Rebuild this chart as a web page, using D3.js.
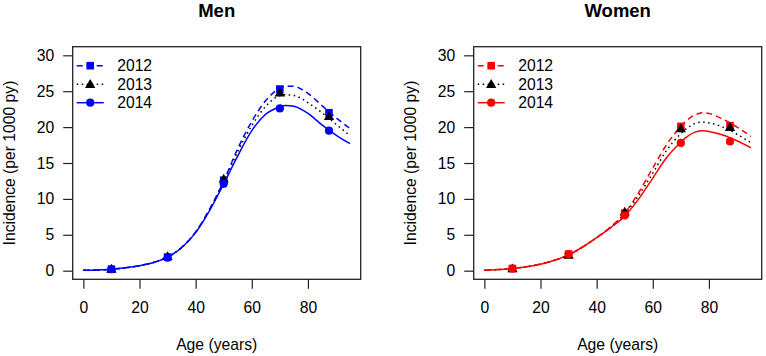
<!DOCTYPE html>
<html>
<head>
<meta charset="utf-8">
<script src="https://cdn.jsdelivr.net/npm/d3@7"></script>
<style>
  body { margin: 0; background: #fff; }
  text { font-family: "Liberation Sans", Arial, sans-serif; fill: #000; }
</style>
</head>
<body>
<div id="chart"></div>
<script>
var width = 766, height = 356;
var fontSize = 15.7;

var curveAges = [0, 5, 10, 15, 20, 25, 30, 35, 40, 45, 50, 55, 60, 65, 70, 72, 75, 78, 80, 85, 90, 95];

var men2012 = [0.05, 0.1, 0.2, 0.4, 0.7, 1.15, 1.9, 3.25, 5.4, 8.6, 12.5, 17.0, 20.8, 23.7, 25.4, 25.7, 25.7, 25.2, 24.7, 23.0, 21.3, 19.8];
var men2013 = [0.05, 0.1, 0.2, 0.4, 0.7, 1.15, 1.9, 3.2, 5.35, 8.5, 12.3, 16.6, 20.2, 22.9, 24.4, 24.5, 24.4, 23.9, 23.4, 22.0, 20.4, 18.8];
var men2014 = [0.05, 0.1, 0.2, 0.4, 0.7, 1.15, 1.9, 3.2, 5.3, 8.4, 12.1, 16.0, 19.5, 21.8, 22.8, 23.0, 22.9, 22.4, 21.9, 20.3, 18.9, 17.7];

var women2012 = [0.05, 0.15, 0.3, 0.55, 0.9, 1.45, 2.2, 3.3, 4.6, 6.1, 8.0, 10.9, 14.3, 17.6, 20.1, 20.9, 21.7, 22.0, 21.9, 21.1, 20.0, 18.7];
var women2013 = [0.05, 0.15, 0.3, 0.55, 0.9, 1.45, 2.2, 3.3, 4.6, 6.05, 7.9, 10.5, 13.6, 16.8, 19.1, 19.8, 20.5, 20.7, 20.6, 20.0, 19.0, 17.8];
var women2014 = [0.05, 0.15, 0.3, 0.55, 0.9, 1.45, 2.2, 3.3, 4.6, 6.0, 7.6, 10.0, 12.9, 15.8, 17.9, 18.6, 19.3, 19.5, 19.4, 18.9, 18.1, 17.1];

// observed points
var pointAges = [10, 30, 50, 70, 87.5];
var menPts2012 = [0.2, 1.9, 12.6, 25.3, 22.0];
var menPts2013 = [0.25, 2.0, 12.8, 24.8, 21.5];
var menPts2014 = [0.2, 1.8, 12.1, 22.6, 19.5];
var womenPts2012 = [0.3, 2.3, 8.0, 20.1, 20.2];
var womenPts2013 = [0.3, 2.2, 8.2, 19.8, 20.0];
var womenPts2014 = [0.3, 2.3, 7.7, 17.8, 18.0];

var years = ["2012", "2013", "2014"];
var xTicks = [0, 20, 40, 60, 80];
var yTicks = [0, 5, 10, 15, 20, 25, 30];

var svg = d3.select("#chart")
            .append("svg")
            .attr("width", width)
            .attr("height", height);

function drawMarker(g, shape, cx, cy, color) {
    if (shape == "square") {
        g.append("rect").attr("x", cx - 3.8).attr("y", cy - 3.8)
            .attr("width", 7.6).attr("height", 7.6).attr("fill", color);
    } else if (shape == "triangle") {
        g.append("path")
            .attr("d", d3.symbol().type(d3.symbolTriangle).size(46)())
            .attr("transform", "translate(" + cx + "," + (cy + 0.8) + ")")
            .attr("fill", color);
    } else {
        g.append("circle").attr("cx", cx).attr("cy", cy).attr("r", 4.1).attr("fill", color);
    }
}

function drawPanel(left, title, color, curves, points) {
    var boxL = left, boxR = left + 288, boxT = 46.7, boxB = 279.3;

    var x = d3.scaleLinear().domain([-3.8, 98.8]).range([boxL, boxR]);
    var y = d3.scaleLinear().domain([-1.2, 31.2]).range([boxB, boxT]);

    var g = svg.append("g");

    var series = [
        {name: years[0], values: curves[0], pts: points[0], stroke: color, dash: "6,4", shape: "square", fill: color},
        {name: years[1], values: curves[1], pts: points[1], stroke: "#000", dash: "1.5,3.5", shape: "triangle", fill: "#000"},
        {name: years[2], values: curves[2], pts: points[2], stroke: color, dash: null, shape: "circle", fill: color}
    ];

    var line = d3.line()
        .x(function(d) { return x(d[0]); })
        .y(function(d) { return y(d[1]); })
        .curve(d3.curveMonotoneX);

    series.forEach(function(s) {
        g.append("path")
            .datum(d3.zip(curveAges, s.values))
            .attr("d", line)
            .attr("fill", "none")
            .attr("stroke", s.stroke)
            .attr("stroke-width", 1.5)
            .attr("stroke-dasharray", s.dash);
    });

    series.forEach(function(s) {
        for (var i = 0; i < pointAges.length; i++) {
            drawMarker(g, s.shape, x(pointAges[i]), y(s.pts[i]), s.fill);
        }
    });

    // box
    g.append("rect")
        .attr("x", boxL).attr("y", boxT)
        .attr("width", boxR - boxL).attr("height", boxB - boxT)
        .attr("fill", "none").attr("stroke", "#222").attr("stroke-width", 1.3);

    var xAxis = g.append("g")
        .attr("transform", "translate(0," + boxB + ")")
        .call(d3.axisBottom(x).tickValues(xTicks).tickSize(9.5).tickPadding(16));
    var yAxis = g.append("g")
        .attr("transform", "translate(" + boxL + ",0)")
        .call(d3.axisLeft(y).tickValues(yTicks).tickSize(9.5).tickPadding(9));

    [xAxis, yAxis].forEach(function(a) {
        a.select(".domain").remove();
        a.selectAll("line").attr("stroke", "#222").attr("stroke-width", 1.2);
        a.selectAll("text").attr("font-size", fontSize)
            .attr("font-family", "Liberation Sans, Arial, sans-serif").attr("fill", "#000");
    });
    xAxis.selectAll("text").attr("dy", "0.32em").attr("y", 28.5);

    // titles
    g.append("text")
        .attr("x", (boxL + boxR) / 2).attr("y", 16.8)
        .attr("text-anchor", "middle")
        .attr("font-size", 18.5).attr("font-weight", "bold")
        .text(title);

    g.append("text")
        .attr("x", (boxL + boxR) / 2).attr("y", 349.5)
        .attr("text-anchor", "middle")
        .attr("font-size", fontSize)
        .text("Age (years)");

    g.append("text")
        .attr("transform", "translate(" + (boxL - 58) + "," + ((boxT + boxB) / 2) + ") rotate(-90)")
        .attr("text-anchor", "middle")
        .attr("font-size", fontSize)
        .text("Incidence (per 1000 py)");

    // legend
    var legY = [65.7, 84.2, 102.7];
    series.forEach(function(s, i) {
        var lg = g.append("g");
        lg.append("line")
            .attr("x1", boxL + 4).attr("x2", boxL + 31)
            .attr("y1", legY[i]).attr("y2", legY[i])
            .attr("stroke", s.stroke).attr("stroke-width", 1.5)
            .attr("stroke-dasharray", s.dash);
        drawMarker(lg, s.shape, boxL + 17.5, legY[i], s.fill);
        lg.append("text")
            .attr("x", boxL + 44.5).attr("y", legY[i])
            .attr("dy", "0.35em")
            .attr("font-size", fontSize)
            .text(s.name);
    });
}

drawPanel(72.7, "Men", "#0000ff", [men2012, men2013, men2014], [menPts2012, menPts2013, menPts2014]);
drawPanel(473.7, "Women", "#ff0000", [women2012, women2013, women2014], [womenPts2012, womenPts2013, womenPts2014]);
</script>
</body>
</html>
